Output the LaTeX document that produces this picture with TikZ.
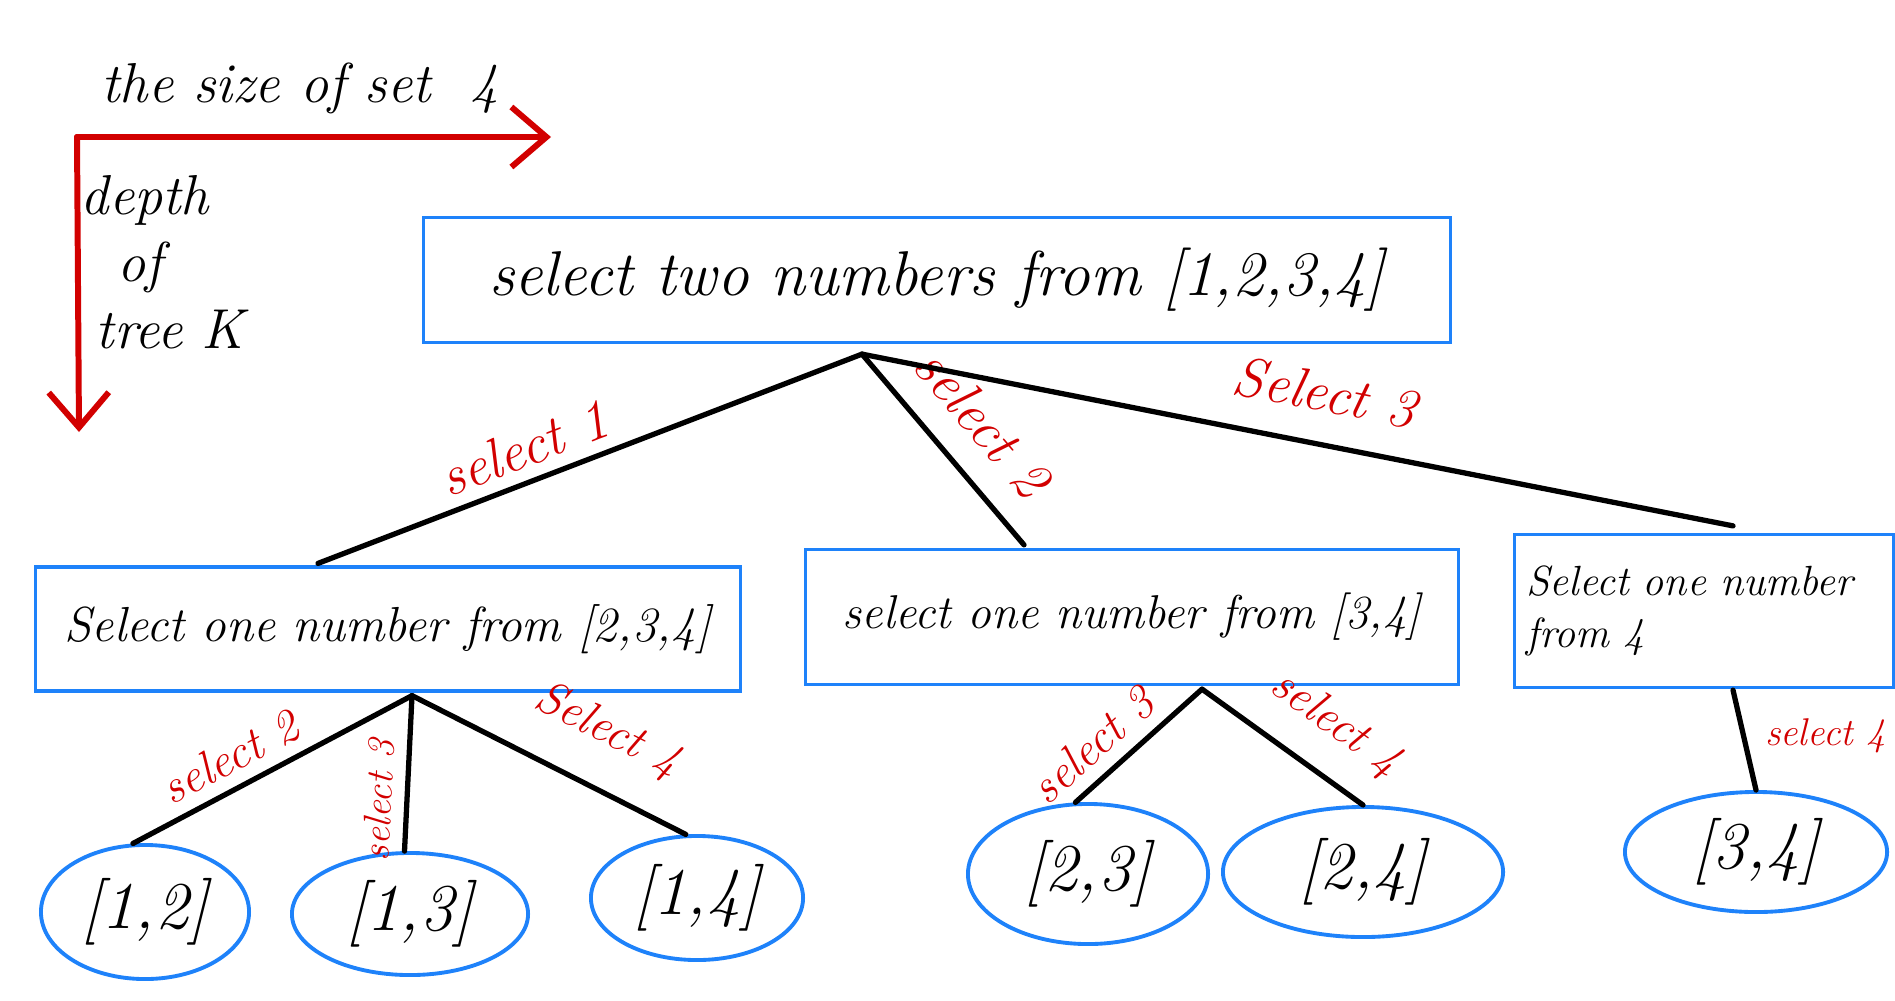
\documentclass[tikz,border=0pt]{standalone}
\usepackage{tikz}
\usetikzlibrary{positioning}
\usetikzlibrary{arrows.meta}
\usetikzlibrary{shapes,calc}
\definecolor{myred}{RGB}{210,0,0}
\definecolor{myblue}{RGB}{30,130,250}

\tikzset{
	box/.style={draw=myblue, line width=0.9pt, inner sep=0pt},
	leaf/.style={ellipse, draw=myblue, line width=1.1pt, inner xsep=-6pt, inner ysep=0pt, font=\fontsize{19}{22}\selectfont\itshape},
	lab/.style={text=myred, font=\fontsize{16}{19}\selectfont\itshape},
	sublab/.style={text=myred, font=\fontsize{13.5}{16}\selectfont\itshape}
}

\begin{document}
\begin{tikzpicture}[x=0.01cm, y=-0.01cm]
	\useasboundingbox (0,0) rectangle (1895,1000);

	\begin{scope}[myred, line width=1.7pt, line cap=round, -{Straight Barb[length=3.5mm,width=6mm]}]
		\coordinate (O) at (77,137);
		\coordinate (X) at (551,137);
		\coordinate (Y) at (79,432);
		\draw (O) -- (X);
		\draw (O) -- (Y);
	\end{scope}

	\begin{scope}[every node/.style={font=\fontsize{16}{19}\selectfont\itshape}]
		\node (size) at (300,88) {the size of set \ 4};
		\node (depth) at (145,200) {depth};
		\node (of) at (140,267) {of};
		\node (tree) at (170,330) {tree K};
	\end{scope}

	\node[box, minimum width=10.27cm, minimum height=1.25cm, font=\fontsize{18}{22}\selectfont\itshape] (root) at (937,280) {select two numbers from [1,2,3,4]};
	\node[box, minimum width=7.04cm, minimum height=1.24cm, font=\fontsize{14}{17}\selectfont\itshape] (a) at (388,629) {Select one number from [2,3,4]};
	\node[box, minimum width=6.53cm, minimum height=1.35cm, font=\fontsize{13.5}{16}\selectfont\itshape] (b) at (1132,617) {select one number from [3,4]};
	\node[box, minimum width=3.79cm, minimum height=1.53cm, text width=3.55cm, align=left, font=\fontsize{12}{15}\selectfont\itshape] (c) at (1704,611) {\mbox{Select one number}\\from 4};

	\node[leaf, minimum width=2.08cm, minimum height=1.34cm] (e12) at (145,912) {[1,2]};
	\node[leaf, minimum width=2.36cm, minimum height=1.22cm] (e13) at (410,914) {[1,3]};
	\node[leaf, minimum width=2.12cm, minimum height=1.24cm] (e14) at (697,898) {[1,4]};
	\node[leaf, minimum width=2.40cm, minimum height=1.40cm] (e23) at (1088,874) {[2,3]};
	\node[leaf, minimum width=2.80cm, minimum height=1.30cm] (e24) at (1363,872) {[2,4]};
	\node[leaf, minimum width=2.62cm, minimum height=1.20cm] (e34) at (1756,852) {[3,4]};

	\coordinate (pr) at ($(root.south)+(-75,10)$);
	\coordinate (ta) at ($(a.north)+(-70,-2)$);
	\coordinate (tb) at ($(b.north)+(-108,-3)$);
	\coordinate (tc) at ($(c.north)+(29,-7)$);
	\coordinate (pa) at ($(a.south)+(24,3)$);
	\coordinate (pb) at ($(b.south)+(70,3)$);
	\coordinate (pc) at ($(c.south)+(29,1)$);

	\begin{scope}[every edge/.style={draw=black, line width=1.5pt, line cap=round}]
		\path (pr) edge node[lab, sloped, above, pos=0.6] {select 1} (ta);
		\path (pr) edge node[lab, sloped, above=4pt, pos=0.52] {select 2} (tb);
		\path (pr) edge node[lab, sloped, above=5pt, pos=0.52] {Select 3} (tc);
		\path (pa) edge node[sublab, sloped, above, pos=0.6] {select 2} (e12.100);
		\path (pa) edge node[sublab, font=\fontsize{11}{13}\selectfont\itshape, sloped, above, pos=0.68] {select 3} (e13.95);
		\path (pa) edge node[sublab, sloped, above=6pt, pos=0.62] {Select 4} (e14.100);
		\path (pb) edge node[sublab, sloped, above, pos=0.7] {select 3} (e23.100);
		\path (pb) edge node[sublab, sloped, above=4pt, pos=0.65] {select 4} (e24.north);
		\path (pc) edge node[sublab, font=\fontsize{11}{13}\selectfont\itshape, right=2pt, pos=0.46] {select 4} (e34.north);
	\end{scope}
\end{tikzpicture}
\end{document}
